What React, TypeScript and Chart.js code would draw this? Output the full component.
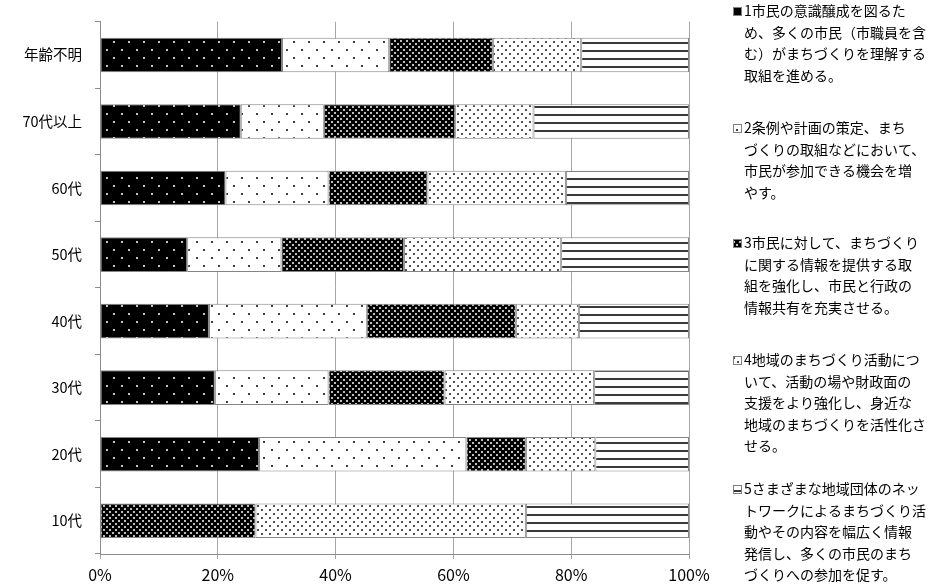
import { useEffect, useRef } from 'react';
import { Chart, registerables } from 'chart.js';

Chart.register(...registerables);

// Age groups, top to bottom
const categories = ['年齢不明', '70代以上', '60代', '50代', '40代', '30代', '20代', '10代'];

// Share of answers (%) for each measure, per age group
const measure1 = [30.9, 23.9, 21.3, 14.8, 18.5, 19.5, 27.0, 0];
const measure2 = [18.2, 14.1, 17.5, 16.0, 26.8, 19.3, 35.2, 0];
const measure3 = [17.6, 22.3, 16.8, 20.8, 25.3, 19.7, 10.1, 26.4];
const measure4 = [15.0, 13.3, 23.5, 26.7, 10.7, 25.4, 11.8, 45.9];
const measure5 = [18.3, 26.4, 20.9, 21.7, 18.7, 16.1, 15.9, 27.7];

// Legend text, already broken into the lines shown beside the chart
const legendLines = [
  ['1市民の意識醸成を図るた', 'め、多くの市民（市職員を含', 'む）がまちづくりを理解する', '取組を進める。'],
  ['2条例や計画の策定、まち', 'づくりの取組などにおいて、', '市民が参加できる機会を増', 'やす。'],
  ['3市民に対して、まちづくり', 'に関する情報を提供する取', '組を強化し、市民と行政の', '情報共有を充実させる。'],
  ['4地域のまちづくり活動につ', 'いて、活動の場や財政面の', '支援をより強化し、身近な', '地域のまちづくりを活性化さ', 'せる。'],
  ['5さまざまな地域団体のネッ', 'トワークによるまちづくり活', '動やその内容を幅広く情報', '発信し、多くの市民のまち', 'づくりへの参加を促す。'],
];

const xTickLabels = ['0%', '20%', '40%', '60%', '80%', '100%'];

const FONT_JP = '"Noto Sans CJK JP", "Noto Sans", sans-serif';

// Top line centre of each legend entry and the legend's line height
const LEGEND_TOPS = [11, 128, 243, 360, 489];
const LEGEND_LINE_H = 21.5;
const LEGEND_MARK_X = 733;
const LEGEND_TEXT_X = 744;

type Dot = [number, number];

function dotPattern(
  ctx: CanvasRenderingContext2D,
  w: number,
  h: number,
  bg: string,
  fg: string,
  dots: Dot[],
  size: number
): CanvasPattern {
  const tile = document.createElement('canvas');
  tile.width = w;
  tile.height = h;
  const g = tile.getContext('2d')!;
  g.fillStyle = bg;
  g.fillRect(0, 0, w, h);
  g.fillStyle = fg;
  for (const [x, y] of dots) g.fillRect(x, y, size, size);
  return ctx.createPattern(tile, 'repeat')!;
}

function stripePattern(ctx: CanvasRenderingContext2D): CanvasPattern {
  const tile = document.createElement('canvas');
  tile.width = 4;
  tile.height = 8;
  const g = tile.getContext('2d')!;
  g.fillStyle = '#ffffff';
  g.fillRect(0, 0, 4, 8);
  g.fillStyle = '#3a3a3a';
  g.fillRect(0, 2, 4, 2);
  return ctx.createPattern(tile, 'repeat')!;
}

const sideLegend = {
  id: 'sideLegend',
  afterDraw(chart: any) {
    const ctx: CanvasRenderingContext2D = chart.ctx;
    ctx.save();
    chart.data.datasets.forEach((ds: any, i: number) => {
      const top = LEGEND_TOPS[i];
      ctx.fillStyle = ds.backgroundColor;
      ctx.fillRect(LEGEND_MARK_X, top - 4, 9, 9);
      ctx.strokeStyle = '#808080';
      ctx.lineWidth = 1;
      ctx.strokeRect(LEGEND_MARK_X + 0.5, top - 3.5, 8, 8);
      ctx.fillStyle = '#000000';
      ctx.font = `14px ${FONT_JP}`;
      ctx.textBaseline = 'middle';
      ctx.textAlign = 'left';
      legendLines[i].forEach((line, j) => {
        ctx.fillText(line, LEGEND_TEXT_X, top + j * LEGEND_LINE_H);
      });
    });
    ctx.restore();
  },
};

export default function App() {
  const canvasRef = useRef<HTMLCanvasElement | null>(null);

  useEffect(() => {
    const canvas = canvasRef.current!;
    const ctx = canvas.getContext('2d')!;

    const fills = [
      dotPattern(ctx, 15, 16, '#000000', '#c4c4c4', [[1, 1], [8, 9]], 2),
      dotPattern(ctx, 15, 16, '#ffffff', '#404040', [[1, 1], [8, 9]], 2),
      dotPattern(ctx, 6, 6, '#000000', '#bdbdbd', [[1, 1], [4, 4]], 2),
      dotPattern(ctx, 8, 8, '#ffffff', '#505050', [[1, 1], [5, 5]], 2),
      stripePattern(ctx),
    ];

    const series = [measure1, measure2, measure3, measure4, measure5];

    const chart = new Chart(ctx, {
      type: 'bar',
      data: {
        labels: categories,
        datasets: series.map((values, i) => ({
          label: legendLines[i].join(''),
          data: values,
          backgroundColor: fills[i],
          borderColor: '#858585',
          borderWidth: 1,
          borderSkipped: false,
          barPercentage: 0.52,
          categoryPercentage: 1,
        })),
      },
      options: {
        indexAxis: 'y',
        animation: false,
        responsive: false,
        devicePixelRatio: 1,
        layout: { padding: { left: 0, right: 248, top: 15, bottom: 0 } },
        plugins: {
          legend: { display: false },
          tooltip: { enabled: false },
        },
        scales: {
          x: {
            stacked: true,
            min: 0,
            max: 100,
            ticks: {
              stepSize: 20,
              padding: 6,
              color: '#000000',
              font: { family: FONT_JP, size: 16 },
              callback: (v: any) => xTickLabels[Math.round(Number(v) / 20)],
            },
            grid: { color: '#a6a6a6', tickLength: 5, lineWidth: 1 },
            border: { color: '#8c8c8c' },
            afterFit: (scale: any) => {
              scale.height = 31;
            },
          },
          y: {
            stacked: true,
            ticks: {
              padding: 13,
              color: '#000000',
              font: { family: FONT_JP, size: 14.5 },
            },
            grid: { drawOnChartArea: false, tickLength: 5, color: '#8c8c8c', offset: true },
            border: { color: '#8c8c8c' },
            afterFit: (scale: any) => {
              scale.width = 100;
            },
          },
        },
      },
      plugins: [sideLegend],
    });

    return () => chart.destroy();
  }, []);

  return (
    <div style={{ position: 'absolute', left: 0, top: 0, width: 937, height: 585, background: '#ffffff' }}>
      <canvas ref={canvasRef} width={937} height={585} />
    </div>
  );
}
